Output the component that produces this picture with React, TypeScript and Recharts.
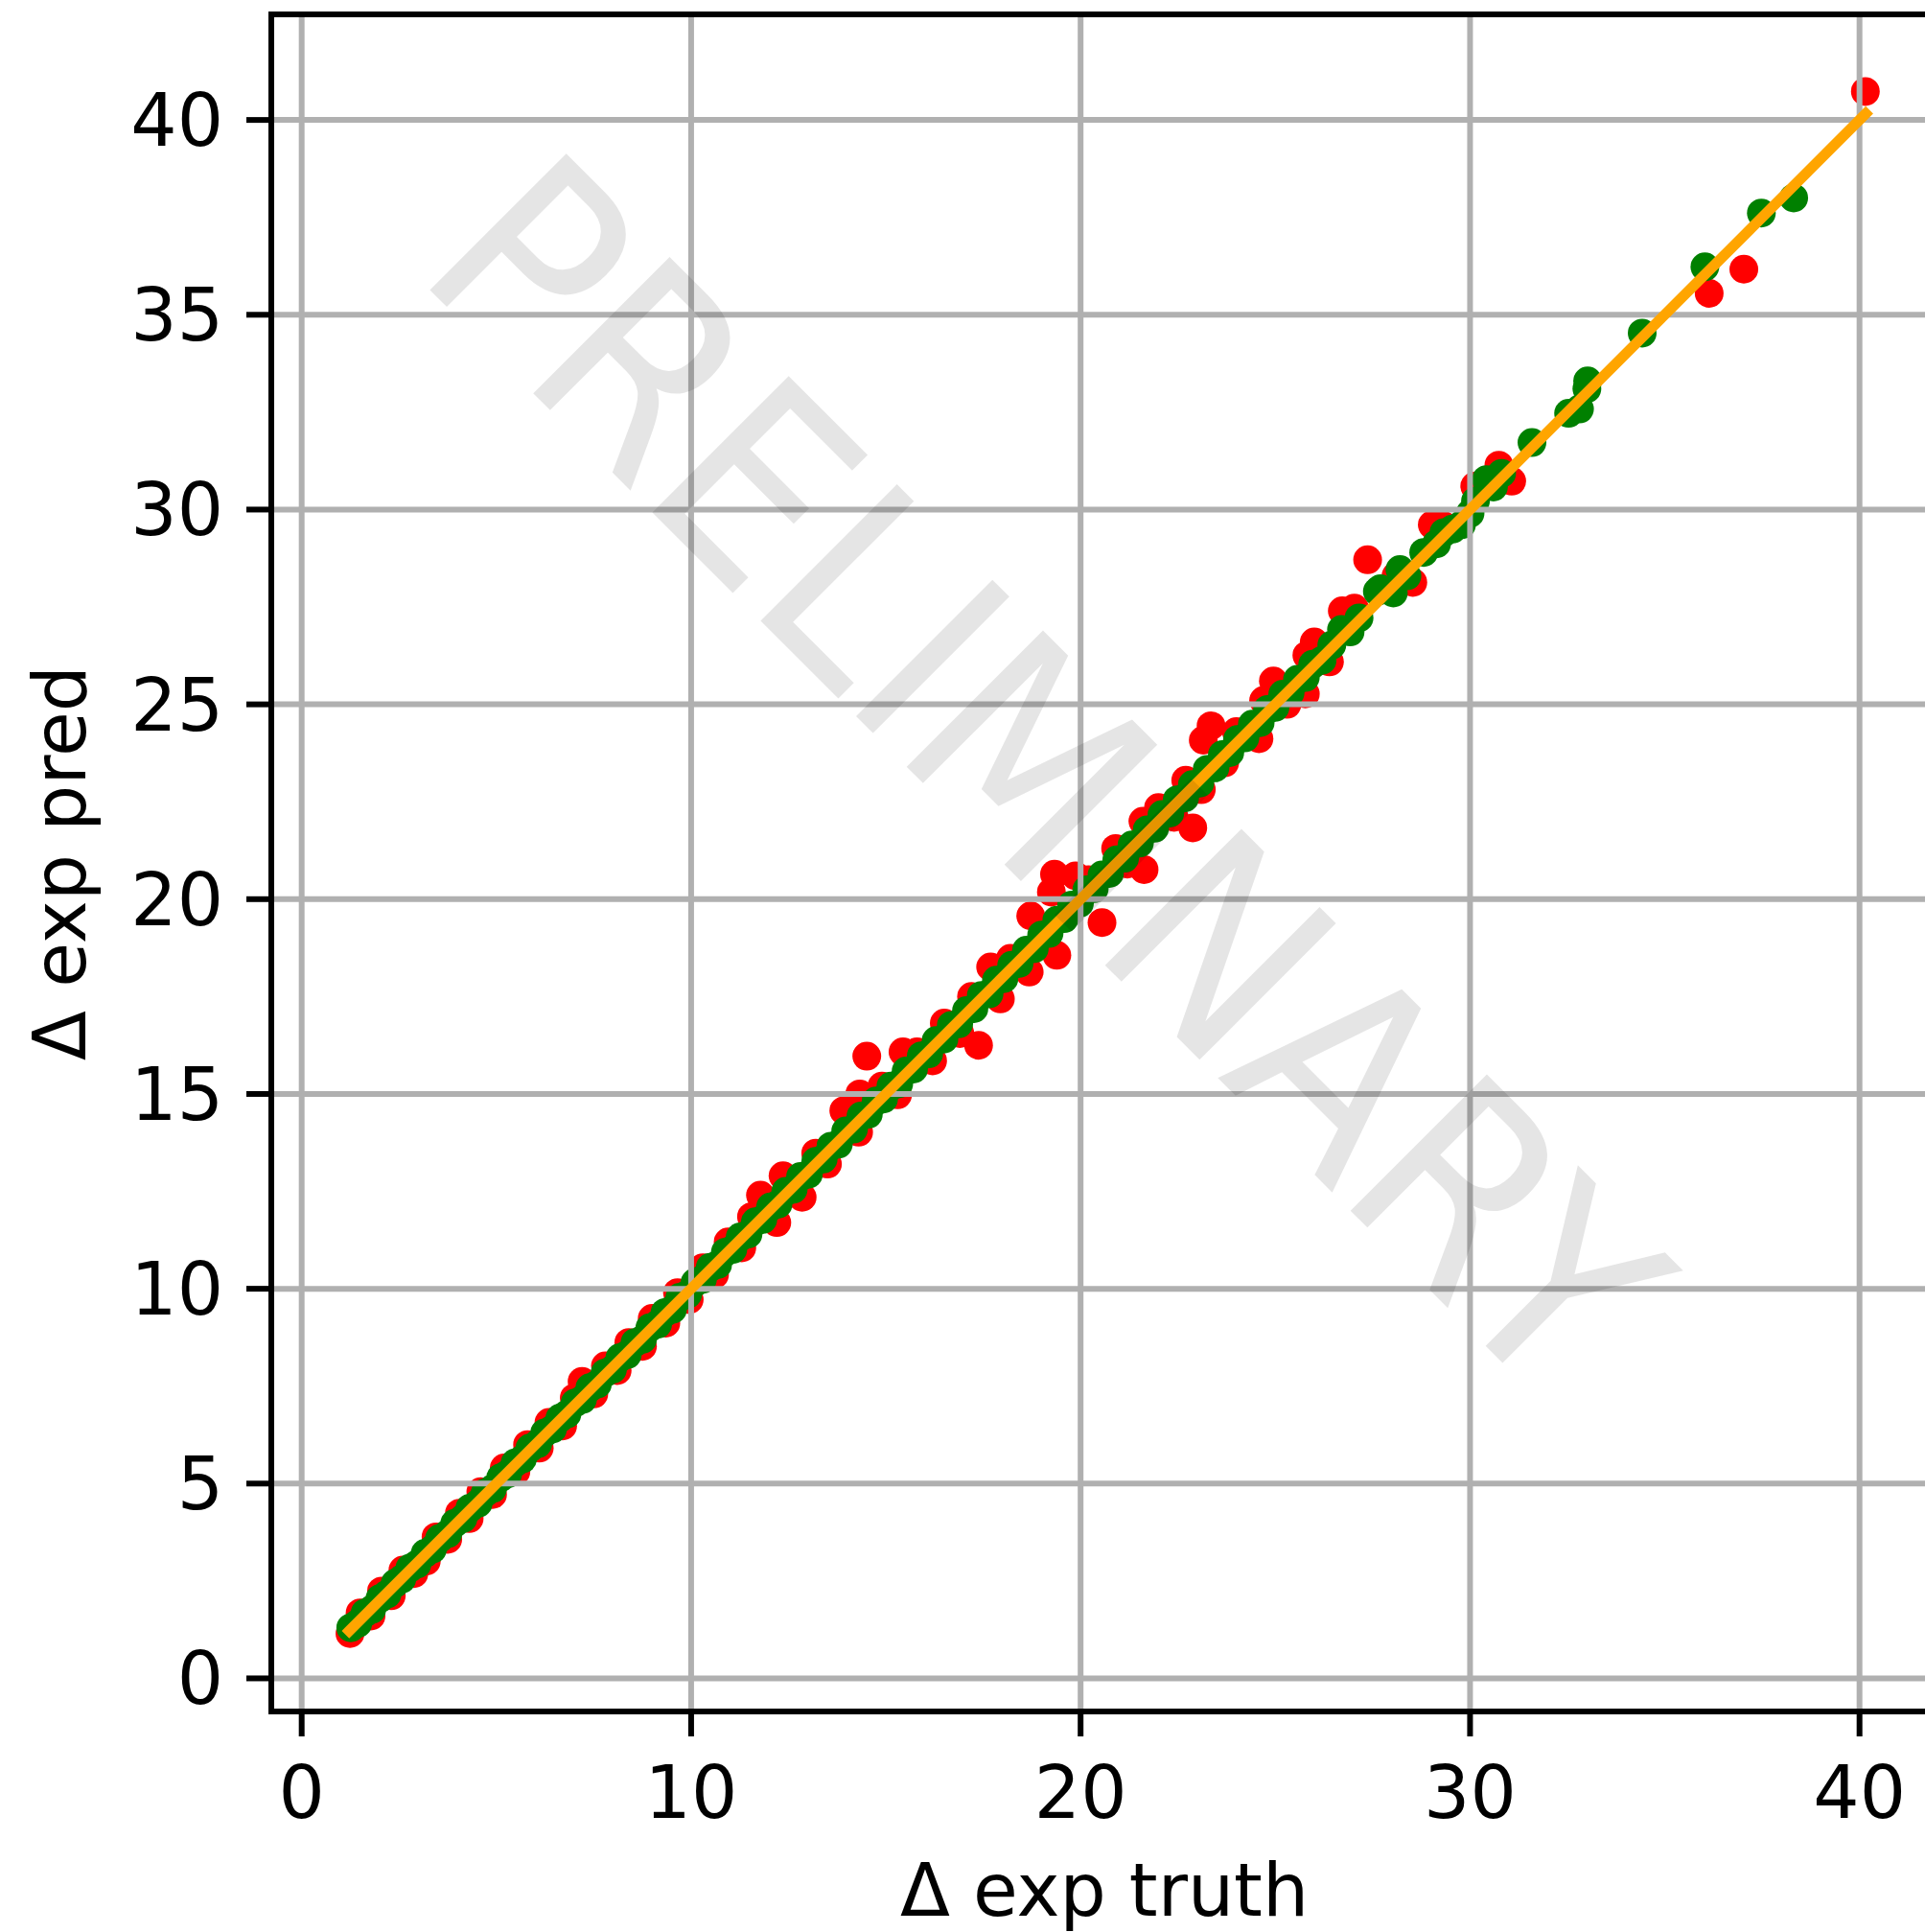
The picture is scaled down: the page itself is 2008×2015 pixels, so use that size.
import React from 'react';
import { ScatterChart, Scatter, XAxis, YAxis, CartesianGrid, ReferenceLine } from 'recharts';

// ---- data (Δ exp truth, Δ exp pred) ----
const greenPoints: [number, number][] = [
  [1.26, 1.3], [1.44, 1.41], [1.63, 1.68], [1.8, 1.77], [2.01, 2.05], [2.19, 2.16], [2.4, 2.44], [2.57, 2.55],
  [2.78, 2.83], [2.96, 2.93], [3.17, 3.21], [3.36, 3.32], [3.54, 3.59], [3.75, 3.71], [3.93, 3.98], [4.14, 4.1],
  [4.32, 4.37], [4.53, 4.49], [4.71, 4.76], [4.9, 4.87], [5.11, 5.15], [5.29, 5.25], [5.48, 5.53], [5.67, 5.63],
  [5.86, 5.91], [6.06, 6.02], [6.24, 6.3], [6.44, 6.4], [6.63, 6.68], [6.81, 6.78], [7.02, 7.07], [7.21, 7.16],
  [7.4, 7.46], [7.59, 7.55], [7.79, 7.84], [7.98, 7.93], [8.17, 8.23], [8.36, 8.31], [8.56, 8.62], [8.75, 8.7],
  [8.94, 9.0], [9.14, 9.09], [9.33, 9.39], [9.52, 9.47], [9.71, 9.78], [9.91, 9.86], [10.1, 10.16], [10.29, 10.24],
  [10.49, 10.55], [10.68, 10.62], [10.88, 10.94], [11.07, 11.01], [11.26, 11.33], [11.46, 11.4], [11.65, 11.72],
  [11.84, 11.78], [12.04, 12.1], [12.23, 12.17], [12.43, 12.5], [12.62, 12.55], [12.81, 12.88], [13.01, 12.94],
  [13.2, 13.27], [13.39, 13.33], [13.59, 13.66], [13.78, 13.71], [13.97, 14.05], [14.17, 14.1], [14.36, 14.43],
  [14.55, 14.48], [14.75, 14.82], [14.94, 14.87], [15.13, 15.2], [15.33, 15.26], [15.52, 15.59], [15.71, 15.64],
  [15.91, 15.98], [16.1, 16.03], [16.29, 16.37], [16.49, 16.41], [16.68, 16.76], [16.87, 16.8], [17.07, 17.14],
  [17.26, 17.19], [17.45, 17.53], [17.65, 17.57], [17.84, 17.92], [18.03, 17.96], [18.23, 18.3], [18.42, 18.35],
  [18.61, 18.69], [18.81, 18.73], [19.0, 19.08], [19.19, 19.12], [19.39, 19.46], [19.58, 19.5], [19.77, 19.85],
  [19.97, 19.89], [20.16, 20.24], [20.35, 20.27], [20.55, 20.62], [20.74, 20.66], [20.93, 21.01], [21.13, 21.05],
  [21.32, 21.39], [21.51, 21.44], [21.71, 21.78], [21.9, 21.82], [22.09, 22.17], [22.29, 22.21], [22.48, 22.55],
  [22.67, 22.6], [22.87, 22.94], [23.06, 22.98], [23.25, 23.33], [23.45, 23.37], [23.64, 23.71], [23.83, 23.76],
  [24.03, 24.1], [24.22, 24.14], [24.41, 24.49], [24.61, 24.53], [24.8, 24.87], [24.99, 24.92], [25.19, 25.26],
  [25.38, 25.3], [25.57, 25.64], [25.77, 25.69], [25.96, 26.03], [26.2, 26.13], [26.45, 26.52], [26.7, 26.92],
  [26.92, 26.86], [27.15, 27.22], [27.62, 27.9], [27.7, 27.97], [28.03, 27.86], [28.2, 28.46], [28.38, 28.3],
  [28.81, 28.9], [29.14, 29.12], [29.33, 29.41], [29.55, 29.5], [29.78, 29.61], [30.0, 29.9], [30.14, 30.22],
  [30.42, 30.77], [30.6, 30.58], [30.81, 30.93], [31.59, 31.72], [32.53, 32.47], [32.81, 32.58], [33.0, 33.1],
  [33.02, 33.3], [34.42, 34.53], [36.03, 36.23], [37.48, 37.61], [38.31, 38.0],
];

const redPoints: [number, number][] = [
  [1.24, 1.15], [1.5, 1.68], [1.78, 1.6], [2.05, 2.24], [2.3, 2.12], [2.6, 2.78], [2.88, 2.69], [3.2, 3.01],
  [3.45, 3.63], [3.75, 3.57], [4.05, 4.24], [4.3, 4.1], [4.6, 4.79], [4.9, 4.72], [5.2, 5.4], [5.5, 5.31],
  [5.8, 6.0], [6.1, 5.91], [6.35, 6.57], [6.7, 6.48], [7.0, 7.2], [7.2, 7.62], [7.5, 7.3], [7.8, 8.02],
  [8.1, 7.9], [8.4, 8.62], [8.75, 8.52], [9.0, 9.24], [9.35, 9.12], [9.65, 9.9], [9.95, 9.72], [10.3, 10.54],
  [10.6, 10.36], [10.95, 11.2], [11.3, 11.05], [11.55, 11.85], [11.78, 12.4], [12.2, 11.7], [12.36, 12.9],
  [12.85, 12.35], [13.2, 13.48], [13.5, 13.2], [13.92, 14.57], [14.3, 14.02], [14.33, 15.0], [14.51, 15.97],
  [14.9, 15.2], [15.3, 14.98], [15.44, 16.08], [15.8, 16.08], [16.2, 15.85], [16.5, 16.82], [16.9, 16.55],
  [17.38, 16.25], [17.2, 17.5], [17.69, 18.26], [17.94, 17.44], [18.2, 18.48], [18.68, 18.13], [18.72, 19.57],
  [19.25, 20.18], [19.33, 20.64], [19.39, 18.56], [19.87, 20.6], [20.2, 20.5], [20.55, 19.4], [20.9, 21.3],
  [21.2, 20.9], [21.63, 20.76], [21.6, 22.0], [22.0, 22.35], [22.4, 22.1], [22.88, 21.83], [22.7, 23.05],
  [23.1, 22.81], [23.15, 24.08], [23.35, 24.45], [23.7, 23.5], [24.0, 24.3], [24.58, 24.12], [24.7, 25.1],
  [24.95, 25.6], [25.3, 25.0], [25.77, 25.27], [25.81, 26.26], [26.0, 26.6], [26.39, 26.09], [26.72, 27.4],
  [27.03, 27.47], [27.37, 28.71], [28.1, 28.3], [28.53, 28.13], [29.03, 29.61], [29.3, 29.6], [30.12, 30.6],
  [30.74, 31.14], [31.07, 30.73], [36.14, 35.55], [37.03, 36.17], [40.15, 40.73],
];

// identity reference line, from smallest to largest truth value
const diagonalEnds: number[] = [1.22, 40.16];

const xTicks = [0, 10, 20, 30, 40];
const yTicks = [0, 5, 10, 15, 20, 25, 30, 35, 40];
const X_DOMAIN: [number, number] = [-0.78, 42.1];
const Y_DOMAIN: [number, number] = [-0.85, 42.71];

const FONT = '"DejaVu Sans", Verdana, sans-serif';

const makeDot = (color: string) => (props: any) => {
  const { cx, cy } = props;
  if (cx == null || cy == null) return <g />;
  return <circle cx={cx} cy={cy} r={15} fill={color} />;
};

const noShape = () => <g />;

export default function App() {
  const red = redPoints.map(([x, y]) => ({ x, y }));
  const green = greenPoints.map(([x, y]) => ({ x, y }));
  const diag = diagonalEnds.map((v) => ({ x: v, y: v }));
  const tickStyle = { fill: '#000', fontSize: 76, fontFamily: FONT };
  const tickLineStyle = { stroke: '#000', strokeWidth: 6 };
  const spine = { stroke: '#000', strokeWidth: 6, strokeLinecap: 'square' as const };

  return (
    <div style={{ position: 'absolute', left: 0, top: 0, width: 2008, height: 2015, overflow: 'hidden', background: '#fff' }}>
      <ScatterChart width={2025} height={2015} margin={{ top: 15, right: 0, bottom: 0, left: 0 }}>
        <XAxis
          type="number"
          dataKey="x"
          domain={X_DOMAIN}
          allowDataOverflow
          ticks={xTicks}
          interval={0}
          height={230}
          tickSize={26}
          tickMargin={31}
          axisLine={false}
          tickLine={tickLineStyle}
          tick={tickStyle}
        />
        <YAxis
          type="number"
          dataKey="y"
          domain={Y_DOMAIN}
          allowDataOverflow
          ticks={yTicks}
          interval={0}
          width={283}
          tickSize={26}
          tickMargin={24}
          axisLine={false}
          tickLine={tickLineStyle}
          tick={tickStyle}
        />
        <Scatter data={red} fill="#ff0000" shape={makeDot('#ff0000')} isAnimationActive={false} />
        <Scatter data={green} fill="#008000" shape={makeDot('#008000')} isAnimationActive={false} />
        <CartesianGrid stroke="#b0b0b0" strokeWidth={6} horizontal vertical {...({ zIndex: 650 } as any)} />
        <Scatter
          data={diag}
          line={{ stroke: '#ffa500', strokeWidth: 11, strokeLinecap: 'square' } as any}
          shape={noShape}
          isAnimationActive={false}
          {...({ zIndex: 700 } as any)}
        />
        <ReferenceLine x={X_DOMAIN[0]} {...spine} {...({ zIndex: 800 } as any)} />
        <ReferenceLine y={Y_DOMAIN[0]} {...spine} {...({ zIndex: 800 } as any)} />
        <ReferenceLine y={Y_DOMAIN[1]} {...spine} {...({ zIndex: 800 } as any)} />
      </ScatterChart>
      <svg
        width={2008}
        height={2015}
        style={{ position: 'absolute', left: 0, top: 0, pointerEvents: 'none' }}
      >
        <text x={1152} y={1998} textAnchor="middle" fontSize={76} fontFamily={FONT} fill="#000">
          Δ exp truth
        </text>
        <text
          x={89}
          y={900}
          textAnchor="middle"
          fontSize={76}
          fontFamily={FONT}
          fill="#000"
          transform="rotate(-90 89 900)"
        >
          Δ exp pred
        </text>
        <text
          x={1022}
          y={876}
          textAnchor="middle"
          fontSize={276}
          fontFamily={FONT}
          fill="#000"
          fillOpacity={0.1}
          textLength={1672}
          lengthAdjust="spacingAndGlyphs"
          transform="rotate(45 1022 876)"
        >
          PRELIMINARY
        </text>
      </svg>
    </div>
  );
}
